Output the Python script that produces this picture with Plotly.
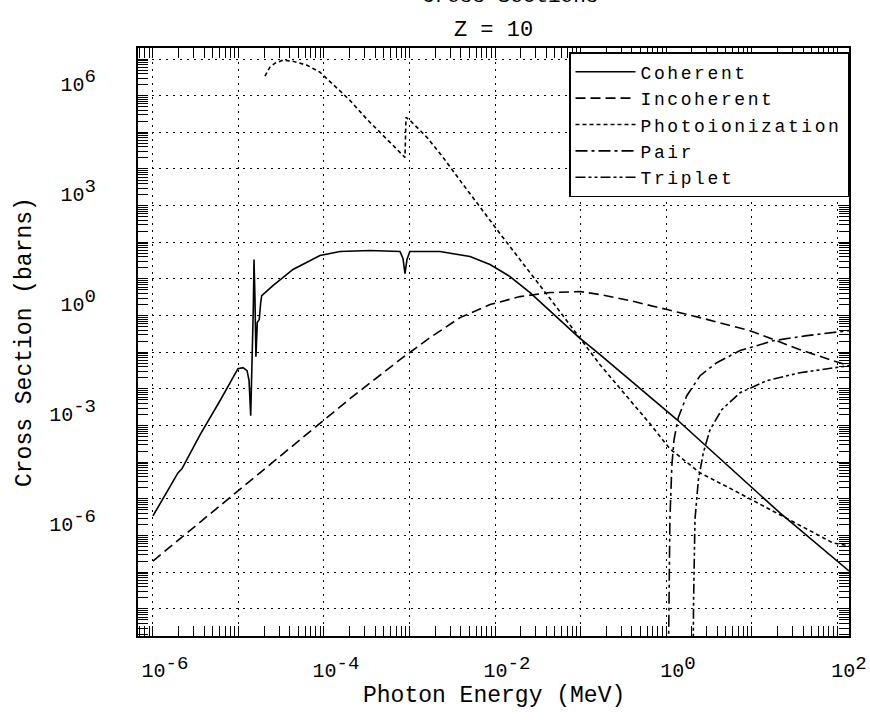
import plotly.graph_objects as go

# ---------------- data ----------------
coh_e = [1.00e-6, 1.38e-6, 1.96e-6, 2.18e-6, 3.55e-6, 6.08e-6, 8.62e-6, 9.87e-6, 1.13e-5, 1.26e-5,
         1.33e-5, 1.39e-5, 1.49e-5, 1.52e-5, 1.56e-5, 1.60e-5, 1.66e-5, 1.75e-5, 1.82e-5, 1.87e-5,
         2.53e-5, 4.34e-5, 8.98e-5, 1.54e-4, 3.45e-4, 7.74e-4, 8.40e-4, 8.86e-4, 9.35e-4, 1.01e-3,
         2.27e-3, 5.10e-3, 8.74e-3, 1.50e-2, 2.57e-2, 4.40e-2, 9.35e-2, 0.169, 1.35, 21.5, 138]
coh_s = [3.43e-6, 1.29e-5, 5.13e-5, 6.60e-5, 5.61e-4, 4.76e-3, 2.15e-2, 3.56e-2, 3.80e-2, 3.14e-2,
         1.68e-2, 1.85e-3, 1.46, 33.9, 2.74, 7.59e-2, 0.644, 0.778, 2.27, 3.52,
         6.60, 18.1, 43.6, 56.1, 59.7, 56.1, 36.1, 14.0, 33.9, 56.1,
         56.1, 40.9, 24.7, 11.6, 4.25, 1.37, 0.267, 8.60e-2, 1.44e-3, 4.14e-6, 1.08e-7]

inc_e = [1.00e-6, 3.55e-6, 1.36e-5, 5.24e-5, 2.01e-4, 7.74e-4, 1.74e-3, 3.90e-3, 8.74e-3, 1.96e-2,
         4.40e-2, 9.87e-2, 0.169, 0.379, 1.03, 2.50, 9.60, 19.9, 36.9, 89.8, 138]
inc_s = [2.02e-7, 2.35e-6, 3.10e-5, 4.09e-4, 5.40e-3, 6.28e-2, 0.251, 0.882, 2.00, 3.30,
         4.25, 4.53, 3.75, 2.57, 1.46, 0.882, 0.389, 0.207, 0.118, 5.89e-2, 4.30e-2]

ph_e = [2.04e-5, 2.33e-5, 2.67e-5, 3.31e-5, 4.34e-5, 6.33e-5, 8.98e-5, 1.27e-4, 2.01e-4, 3.18e-4,
        4.90e-4, 7.14e-4, 8.86e-4, 9.10e-4, 1.01e-3, 1.60e-3, 2.47e-3, 3.90e-3, 1.14e-2, 4.40e-2,
        0.169, 0.411, 0.650, 1.11, 2.50, 6.08, 15.2, 26.0, 89.8, 138]
ph_s = [3.39e6, 5.97e6, 7.68e6, 9.27e6, 8.71e6, 6.77e6, 4.36e6, 2.05e6, 7.48e5, 2.27e5,
        8.28e4, 3.43e4, 2.07e4, 2.57e5, 2.13e5, 7.30e4, 2.07e4, 4.88e3, 174, 2.91,
        4.58e-2, 3.94e-3, 1.12e-3, 2.32e-4, 5.13e-5, 1.76e-5, 5.68e-6, 3.03e-6, 6.28e-7, 5.20e-7]

pair_e = [1.05, 1.08, 1.11, 1.17, 1.24, 1.39, 1.75, 2.50, 3.92, 7.34, 18.0, 44.2, 138]
pair_s = [1e-11, 1.44e-8, 2.67e-6, 7.97e-5, 4.09e-4, 1.63e-3, 6.52e-3, 2.29e-2, 5.20e-2, 0.111,
          0.207, 0.284, 0.389]

trip_e = [2.05, 2.10, 2.18, 2.39, 2.73, 3.27, 4.48, 7.34, 15.1, 36.9, 138]
trip_s = [1e-11, 1.44e-8, 2.67e-6, 3.31e-5, 1.81e-4, 7.68e-4, 2.70e-3, 7.87e-3, 1.68e-2, 2.77e-2,
          4.30e-2]

x_decades = [-6, -5, -4, -3, -2, -1, 0, 1, 2]
x_labelled = [-6, -4, -2, 0, 2]
y_decades = list(range(-8, 8))
y_labelled = [-6, -3, 0, 3, 6]

FONT = "Liberation Mono"
SUP = 19


def lab(k):
    return "10<sup><span style='font-size:%dpx'>%d</span></sup>" % (SUP, k)


def spaced(t):
    return "<span style='letter-spacing:2.6px'>%s</span>" % t


fig = go.Figure()
series = [
    ("Coherent", coh_e, coh_s, "solid"),
    ("Incoherent", inc_e, inc_s, "10px,5px"),
    ("Photoionization", ph_e, ph_s, "4px,3px"),
    ("Pair", pair_e, pair_s, "12px,4px,3px,4px"),
    ("Triplet", trip_e, trip_s, "10px,3px,3px,3px,3px,3px"),
]
for name, xs, ys, dash in series:
    fig.add_trace(go.Scatter(x=xs, y=ys, mode="lines", name=spaced(name),
                             line=dict(color="black", width=1.6, dash=dash)))

# helper traces for the overlay axes that carry the longer 5x ticks
fig.add_trace(go.Scatter(x=[], y=[], xaxis="x2", yaxis="y", showlegend=False, hoverinfo="skip"))
fig.add_trace(go.Scatter(x=[], y=[], xaxis="x", yaxis="y2", showlegend=False, hoverinfo="skip"))

xr = [-6.175, 2.14]
yr = [-8.74, 7.3]

fig.update_layout(
    width=870, height=723,
    margin=dict(l=138, r=21, t=48, b=87, autoexpand=False),
    paper_bgcolor="white", plot_bgcolor="white",
    font=dict(family=FONT, color="black", size=20),
    title=dict(text="Z = 10", x=0.5, xref="paper", y=1 - 28 / 723, yanchor="middle",
               font=dict(family=FONT, size=22, color="black")),
    showlegend=True,
    legend=dict(x=1.0, xanchor="right", y=1 - 4 / 588, yanchor="top",
                bgcolor="white", bordercolor="black", borderwidth=1.5,
                font=dict(family=FONT, size=18, color="black"),
                itemwidth=60, tracegroupgap=0),
    xaxis=dict(
        type="log", range=xr, automargin=False,
        tickmode="array",
        tickvals=[10.0 ** k for k in x_decades],
        ticktext=[lab(k) if k in x_labelled else "" for k in x_decades],
        ticks="inside", ticklen=10, tickwidth=1, tickcolor="black",
        showline=True, linewidth=2, linecolor="black", mirror="allticks",
        showgrid=True, gridcolor="black", gridwidth=1, griddash="2px,5px",
        zeroline=False,
        minor=dict(dtick="D1", ticks="inside", ticklen=5, tickcolor="black", tickwidth=1, showgrid=False),
        tickfont=dict(family=FONT, size=20, color="black"),
        ticklabelshift=12, ticklabelstandoff=15,
    ),
    yaxis=dict(
        type="log", range=yr, automargin=False,
        tickmode="array",
        tickvals=[10.0 ** k for k in y_decades],
        ticktext=[lab(k) if k in y_labelled else "" for k in y_decades],
        ticks="inside", ticklen=10, tickwidth=1, tickcolor="black",
        showline=True, linewidth=2, linecolor="black", mirror="allticks",
        showgrid=True, gridcolor="black", gridwidth=1, griddash="2px,5px",
        zeroline=False,
        minor=dict(dtick="D1", ticks="inside", ticklen=5, tickcolor="black", tickwidth=1, showgrid=False),
        tickfont=dict(family=FONT, size=20, color="black"),
        ticklabelstandoff=36, ticklabelshift=-12,
    ),
    xaxis2=dict(
        type="log", range=xr, overlaying="x", anchor="y", side="bottom", automargin=False,
        tickmode="array", tickvals=[5 * 10.0 ** k for k in x_decades[:-1]],
        ticks="inside", ticklen=9, tickwidth=1, tickcolor="black",
        showticklabels=False, showgrid=False, showline=False, zeroline=False, mirror="ticks",
    ),
    yaxis2=dict(
        type="log", range=yr, overlaying="y", anchor="x", side="left", automargin=False,
        tickmode="array", tickvals=[5 * 10.0 ** k for k in y_decades],
        ticks="inside", ticklen=9, tickwidth=1, tickcolor="black",
        showticklabels=False, showgrid=False, showline=False, zeroline=False, mirror="ticks",
    ),
    annotations=[
        dict(text="Photon Energy (MeV)", xref="paper", yref="paper", x=0.5, y=(636 - 696) / 588,
             xanchor="center", yanchor="middle", showarrow=False,
             font=dict(family=FONT, size=23, color="black")),
        dict(text="Cross Section (barns)", xref="paper", yref="paper", x=(25 - 138) / 711, y=0.5,
             xanchor="center", yanchor="middle", textangle=-90, showarrow=False,
             font=dict(family=FONT, size=23, color="black")),
        dict(text="Cross Sections", xref="paper", yref="paper", x=(510 - 138) / 711, y=(636 + 3) / 588,
             xanchor="center", yanchor="middle", showarrow=False,
             font=dict(family=FONT, size=21, color="black")),
    ],
)

fig.write_html("out.html", config={"displayModeBar": False},
               post_script="document.body.style.margin='0px';")
